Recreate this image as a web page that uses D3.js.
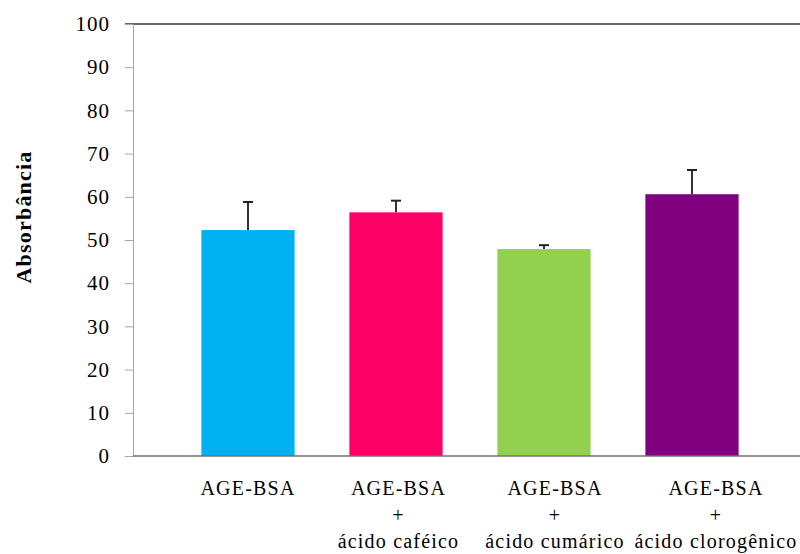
<!DOCTYPE html>
<html>
<head>
<meta charset="utf-8">
<script src="https://cdn.jsdelivr.net/npm/d3@7"></script>
<style>
  body { margin: 0; background: #fff; }
  text { font-family: "Liberation Serif", "Times New Roman", serif; fill: #000; }
</style>
</head>
<body>
<div class="chart"></div>
<script>
// data
var categories = ["AGE-BSA", "AGE-BSA|+|ácido caféico", "AGE-BSA|+|ácido cumárico", "AGE-BSA|+|ácido clorogênico"];
var values = [52.3, 56.4, 47.9, 60.6];
var errors = [6.5, 2.7, 0.9, 5.6];
var colors = ["#00b0f0", "#ff0066", "#92d050", "#800080"];
var yTicks = [0, 10, 20, 30, 40, 50, 60, 70, 80, 90, 100];

var svgWidth = 800, svgHeight = 554;
var plotLeft = 133, plotTop = 24, plotBottom = 456, plotRight = 800;
// the original labels drift right of their bars
var labelNudge = [0, 2.5, 11, 24];

var svg = d3.select(".chart").append("svg")
    .attr("width", svgWidth)
    .attr("height", svgHeight);

var y = d3.scaleLinear().domain([0, 100]).range([plotBottom, plotTop]);
var x = d3.scaleBand()
    .domain(categories)
    .range([174, 766])
    .paddingInner(0.37)
    .paddingOuter(0.185);

// top border line
svg.append("line")
    .attr("x1", plotLeft - 8).attr("x2", plotRight)
    .attr("y1", y(100)).attr("y2", y(100))
    .attr("stroke", "#333").attr("stroke-width", 1.5);

// y axis
var leftAxis = d3.axisLeft(y).tickValues(yTicks).tickSize(8).tickPadding(15);
var gy = svg.append("g")
    .attr("transform", "translate(" + plotLeft + ",0)")
    .call(leftAxis);
gy.select(".domain").attr("stroke", "#a6a6a6");
gy.selectAll(".tick line").attr("stroke", "#a6a6a6");
gy.selectAll(".tick text")
    .style("font-family", "'Liberation Serif', serif")
    .style("font-size", "21px")
    .style("letter-spacing", "1px")
    .attr("fill", "#000");

// bars
svg.selectAll("rect.bar")
    .data(values)
    .enter()
    .append("rect")
    .attr("class", "bar")
    .attr("x", function(d, i) { return x(categories[i]); })
    .attr("width", x.bandwidth())
    .attr("y", function(d) { return y(d); })
    .attr("height", function(d) { return y(0) - y(d); })
    .attr("fill", function(d, i) { return colors[i]; });

// error bars (upper only)
var err = svg.selectAll("g.err")
    .data(values)
    .enter()
    .append("g")
    .attr("class", "err");
err.append("line")
    .attr("x1", function(d, i) { return x(categories[i]) + x.bandwidth() / 2; })
    .attr("x2", function(d, i) { return x(categories[i]) + x.bandwidth() / 2; })
    .attr("y1", function(d) { return y(d); })
    .attr("y2", function(d, i) { return y(d + errors[i]); })
    .attr("stroke", "#333").attr("stroke-width", 2);
err.append("line")
    .attr("x1", function(d, i) { return x(categories[i]) + x.bandwidth() / 2 - 5; })
    .attr("x2", function(d, i) { return x(categories[i]) + x.bandwidth() / 2 + 5; })
    .attr("y1", function(d, i) { return y(d + errors[i]); })
    .attr("y2", function(d, i) { return y(d + errors[i]); })
    .attr("stroke", "#222").attr("stroke-width", 2);

// x axis line
svg.append("line")
    .attr("x1", plotLeft).attr("x2", plotRight)
    .attr("y1", y(0)).attr("y2", y(0))
    .attr("stroke", "#6f6f6f").attr("stroke-width", 1.5);

// category labels
var lab = svg.selectAll("text.cat")
    .data(categories)
    .enter()
    .append("text")
    .attr("class", "cat")
    .attr("text-anchor", "middle")
    .style("font-size", "20px")
    .style("letter-spacing", "1.2px");
lab.selectAll("tspan")
    .data(function(d, j) { return d.split("|").map(function(t) { return {t: t, c: d, j: j}; }); })
    .enter()
    .append("tspan")
    .attr("x", function(d) { return x(d.c) + x.bandwidth() / 2 + labelNudge[d.j]; })
    .attr("y", function(d, i) { return 495 + i * 26.5; })
    .text(function(d) { return d.t; });

// y axis title
svg.append("text")
    .attr("transform", "translate(31,217) rotate(-90)")
    .attr("text-anchor", "middle")
    .style("font-size", "22px")
    .style("font-weight", "bold")
    .style("letter-spacing", "1.2px")
    .text("Absorbância");
</script>
</body>
</html>
